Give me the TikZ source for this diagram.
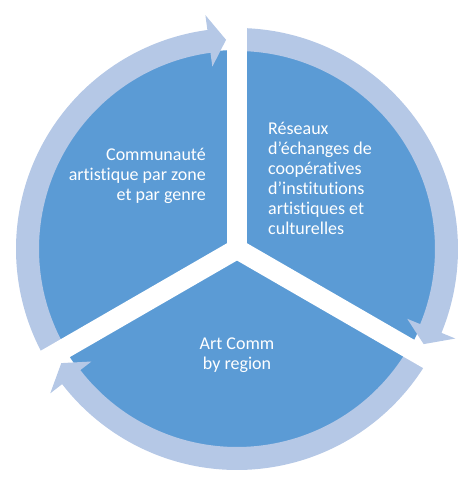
\documentclass[tikz,border=0pt]{standalone}
\usepackage{fontspec}
\setmainfont{Carlito}[Ligatures=NoCommon]
\definecolor{piec}{HTML}{5B9BD5}
\definecolor{ringc}{HTML}{B5C8E6}
\newcommand{\cyclearrow}[3]{%
  \fill[ringc] (#1:221) arc[start angle=#1, end angle=#2, radius=221pt]
    -- (#2:236) -- (#3:209.5) -- (#2:184) -- (#2:198)
    arc[start angle=#2, end angle=#1, radius=198pt] -- cycle;}
\begin{document}
\begin{tikzpicture}[x=1pt,y=1pt,
  lbl/.style={text=white, inner sep=0pt, font=\fontsize{18}{20}\selectfont},
  gapband/.style={white, line width=20pt}]
\useasboundingbox (0,0) rectangle (471,480);
\begin{scope}[shift={(237,231)}]
  \fill[piec] (0,0) circle[radius=199pt];
  \cyclearrow{210}{97.7}{93}
  \cyclearrow{90}{-22.3}{-27}
  \cyclearrow{-30}{-142.3}{-147}
  \draw[gapband] (0,0) -- (90:245);
  \draw[gapband] (0,0) -- (210:245);
  \draw[gapband] (0,0) -- (330:245);
\end{scope}
\node[lbl, align=right, anchor=east] (tl) at (206,304) {Communauté\\artistique par zone\\et par genre};
\node[lbl, align=left, anchor=west] (tr) at (268,302) {Réseaux\\d'échanges de\\coopératives\\d'institutions\\artistiques et\\culturelles};
\node[lbl, align=center] (bt) at (237,125) {Art Comm\\by region};
\end{tikzpicture}
\end{document}
